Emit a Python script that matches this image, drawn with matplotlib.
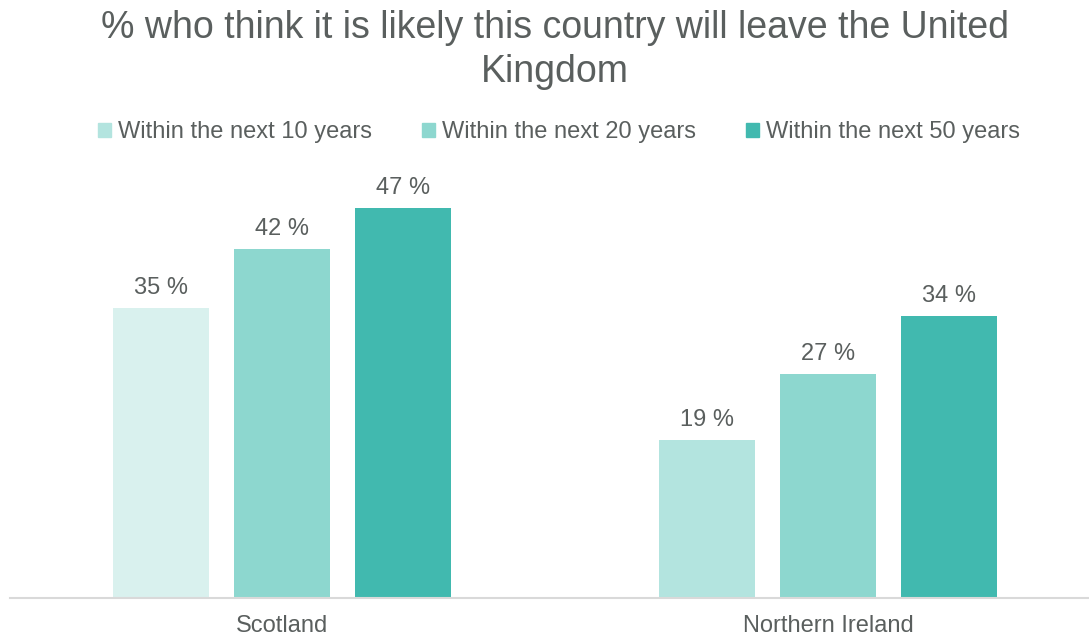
import matplotlib.pyplot as plt
import numpy as np

plt.rcParams['font.family'] = ['Liberation Sans', 'DejaVu Sans']

countries = ['Scotland', 'Northern Ireland']
series = ['Within the next 10 years', 'Within the next 20 years', 'Within the next 50 years']
values = {
    'Within the next 10 years': [35, 19],
    'Within the next 20 years': [42, 27],
    'Within the next 50 years': [47, 34],
}
colors = ['#B3E4DF', '#8DD7CF', '#41B9AF']
first_bar_colors = ['#D9F1EE', '#B3E4DF']  # Scotland's first bar is lighter
text_color = '#5A5F5E'

fig = plt.figure(figsize=(10.89, 6.38), dpi=100)
W, H = 1089, 638
ax = fig.add_axes([10 / W, (H - 598) / H, (1089 - 10) / W, (598 - 183) / H])

x = np.arange(len(countries))
width = 0.176
step = 0.2216
for i, name in enumerate(series):
    cols = first_bar_colors if i == 0 else [colors[i]] * len(countries)
    bars = ax.bar(x + (i - 1) * step, values[name], width, color=cols, label=name)
    for b, v in zip(bars, values[name]):
        ax.text(b.get_x() + b.get_width() / 2, v + 2.4, f'{v} %', ha='center', va='center',
                fontsize=17, color=text_color)

ax.set_xlim(-0.498, 1.478)
ax.set_ylim(0, 50)
ax.set_xticks(x)
ax.set_xticklabels(countries, fontsize=17, color=text_color)
ax.tick_params(axis='x', length=0, pad=12)
ax.set_yticks([])
for s in ['top', 'right', 'left']:
    ax.spines[s].set_visible(False)
ax.spines['bottom'].set_color('#D9D9D9')
ax.spines['bottom'].set_linewidth(1.5)

fig.text(555 / W, 1 - 50 / H, '% who think it is likely this country will leave the United\nKingdom',
         ha='center', va='center', fontsize=27, color=text_color, linespacing=1.25)

handles = [plt.Rectangle((0, 0), 1, 1, color=c) for c in colors]
fig.legend(handles, series, loc='center', bbox_to_anchor=(559 / W, 1 - 132 / H), ncol=3,
           frameon=False, fontsize=17, labelcolor=text_color, handlelength=0.55, handleheight=0.55,
           handletextpad=0.3, columnspacing=2.1)

fig.savefig('out.png', dpi=100)
